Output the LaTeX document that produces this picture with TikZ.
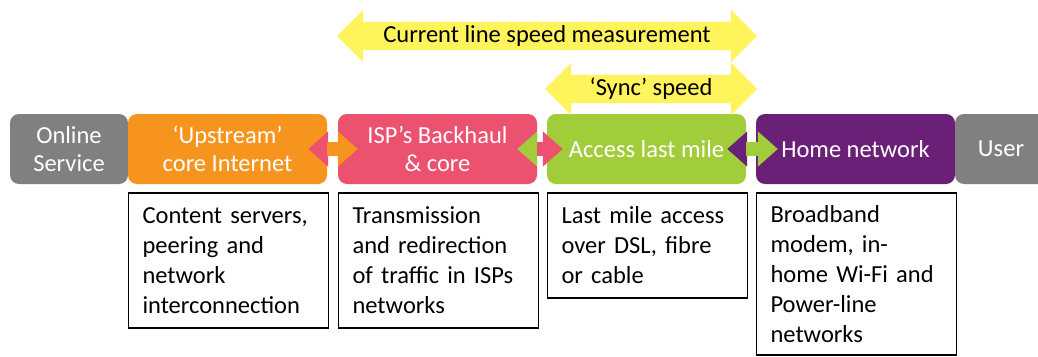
\documentclass[tikz,border=0pt]{standalone}
\usepackage{fontspec}
\setmainfont{Carlito}
\usetikzlibrary{arrows.meta,shapes.arrows,positioning}
\definecolor{greyc}{RGB}{128,128,128}
\definecolor{orangec}{RGB}{247,148,30}
\definecolor{pinkc}{RGB}{236,81,112}
\definecolor{greenc}{RGB}{162,205,58}
\definecolor{purplec}{RGB}{107,32,119}
\definecolor{yellowc}{RGB}{255,244,92}
\begin{document}
\begin{tikzpicture}[x=1pt,y=-1pt,font=\fontsize{24.5}{28}\selectfont]
  \tikzset{
    stage/.style={fill=#1, rounded corners=9pt, text=white, align=center,
      minimum height=70pt, minimum width=199pt, inner sep=2pt},
    descbox/.style={draw=black, line width=1.5pt, fill=white, text width=172pt,
      inner xsep=14pt, align=left, minimum height=#1,
      font=\fontsize{24.5}{30}\selectfont},
    yarrow/.style={double arrow, fill=yellowc, double arrow head extend=12pt,
      text height=17pt, text depth=5pt, inner ysep=3pt, minimum height=#1},
    lnk/.style={draw=#1, line width=14pt, -{Triangle[length=20pt,width=34pt]}},
  }
  \clip (0,0) rectangle (1038,356);
  \fill[white] (0,0) rectangle (1038,356);
  % stages of the path
  \node[stage=greyc, minimum width=118pt] (online) at (69,149) {Online\\Service};
  \node[stage=orangec] (upstream) at (227.5,149) {‘Upstream’\\core Internet};
  \node[stage=pinkc] (backhaul) at (437.5,149) {ISP’s Backhaul\\\& core};
  \node[stage=greenc] (access) at (646.5,149) {Access last mile};
  \node[stage=purplec] (home) at (855.5,149) {Home network};
  \node[stage=greyc, minimum width=92pt] (user) at (1001,149) {User};
  % links between stages
  \draw[lnk=pinkc, shorten >=-19pt] (backhaul.west) -- (upstream.east);
  \draw[lnk=orangec, shorten >=-20pt] (upstream.east) -- (backhaul.west);
  \draw[lnk=greenc, shorten >=-20pt] (access.west) -- (backhaul.east);
  \draw[lnk=pinkc, shorten >=-16pt] (backhaul.east) -- (access.west);
  \draw[lnk=purplec, shorten >=-19pt] (home.west) -- (access.east);
  \draw[lnk=greenc, shorten >=-22pt] (access.east) -- (home.west);
  % speeds
  \node[yarrow=420pt] (linespeed) at (547,36) {Current line speed measurement};
  \node[yarrow=212pt] (syncspeed) at (651,89) {‘Sync’ speed};
  % descriptions
  \node[descbox=135pt, below=8pt of upstream.south west, anchor=north west] (servers)
    {Content servers,\\peering and\\network\\interconnection};
  \node[descbox=135pt, below=8pt of backhaul.south west, anchor=north west] (transmit)
    {Transmission\\and redirection\\of traffic in ISPs\\networks};
  \node[descbox=105pt, below=8pt of access.south west, anchor=north west] (lastmile)
    {Last mile access\\over DSL, fibre\\or cable};
  \node[descbox=162pt, below=8pt of home.south west, anchor=north west] (modem)
    {Broadband\\modem, in-\\home Wi-Fi and\\Power-line\\networks};
\end{tikzpicture}
\end{document}
